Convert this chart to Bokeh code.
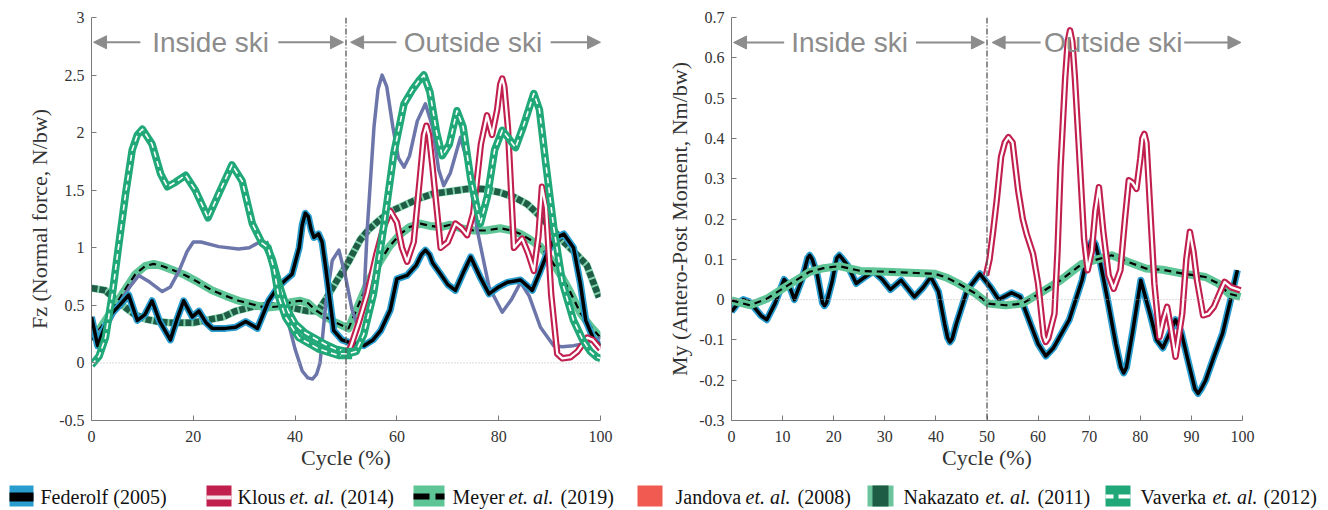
from bokeh.plotting import figure
from bokeh.models import (Range1d, FixedTicker, CustomJSTickFormatter, Span, Label,
                          Arrow, NormalHead)
from bokeh.layouts import column, row
from bokeh.core.properties import value
from bokeh.embed import file_html
from bokeh.resources import INLINE

# ---------------- data: left panel (Fz, N/bw) ----------------
fed_fz_x = [0, 1.2, 2.5, 4, 5.5, 7.3, 9, 10.5, 11.9, 13.4, 15.5, 16.8, 18.1, 19.8, 21.1, 22.5, 23.7,
            26.3, 28.3, 30.3, 32.6, 34.8, 36.5, 38.1, 39.4, 40.8, 41.4, 42, 42.6, 43.2, 43.7, 44.6,
            45.3, 46, 47.6, 49.2, 51.2, 53.5, 55.3, 56.8, 58.7, 60, 62, 63.8, 64.8, 65.6, 66.4, 67,
            68.6, 70, 71.5, 73, 74.5, 76.3, 78.1, 80, 81.7, 84.3, 86.6, 88, 89.5, 91, 92.8, 94.7,
            96, 97.1, 98.7, 100]
fed_fz_y = [0.40, 0.15, 0.30, 0.43, 0.50, 0.59, 0.37, 0.42, 0.54, 0.36, 0.20, 0.38, 0.54, 0.40, 0.45,
            0.35, 0.30, 0.30, 0.31, 0.36, 0.30, 0.54, 0.65, 0.72, 0.77, 1.00, 1.20, 1.30, 1.27, 1.15,
            1.09, 1.12, 1.05, 0.83, 0.28, 0.20, 0.17, 0.15, 0.20, 0.28, 0.46, 0.73, 0.76, 0.85, 0.94,
            0.98, 0.94, 0.87, 0.77, 0.68, 0.63, 0.78, 0.92, 0.75, 0.60, 0.66, 0.70, 0.72, 0.63, 0.78,
            0.95, 1.08, 1.12, 1.00, 0.70, 0.37, 0.20, 0.15]

jan_fz_x = [1.5, 3.5, 5.4, 7.5, 9.3, 11.5, 13.9, 15.5, 17.2, 18.8, 20, 21.5, 25, 28.9, 31, 32.6, 34,
            35.5, 37, 38.5, 40, 41.4, 42.5, 43.4, 44.2, 44.9, 46, 47.3, 48.6, 49.9, 51.2, 52, 52.8,
            53.5, 54.2, 55.5, 56.3, 57.1, 58, 59.2, 60.3, 61.4, 62.5, 64, 65.6, 67, 68.2, 69.2, 70.5,
            72.5, 73.8, 75.8, 78.1, 80.7, 82.5, 84.3, 86, 88.2, 90.8, 92.5, 94.7, 97, 100]
jan_fz_y = [0.27, 0.35, 0.51, 0.66, 0.76, 0.70, 0.62, 0.66, 0.80, 0.97, 1.05, 1.05, 1.01, 0.99, 1.00,
            1.04, 1.05, 0.90, 0.62, 0.38, 0.12, -0.07, -0.13, -0.14, -0.10, 0.00, 0.50, 0.89, 0.98,
            0.75, 0.46, 0.36, 0.36, 0.55, 1.18, 2.05, 2.38, 2.50, 2.40, 2.05, 1.78, 1.70, 1.80, 2.10,
            2.25, 2.05, 1.68, 1.54, 1.65, 1.96, 1.75, 1.15, 0.66, 0.44, 0.55, 0.70, 0.58, 0.31, 0.15,
            0.14, 0.15, 0.17, 0.22]

vav_fz_in_x = [0, 1.5, 2.75, 4.1, 5.4, 6.7, 8, 9, 10, 11.9, 13.6, 14.9, 16.5, 18.5, 20.4, 22.9, 25,
               27.6, 29.6, 31.6, 33.5, 34.7, 35.8, 36.8, 38.1, 40.7, 44.7, 48.6, 51.2]
vav_fz_in_y = [-0.02, 0.06, 0.22, 0.60, 1.04, 1.47, 1.85, 1.98, 2.03, 1.90, 1.64, 1.53, 1.57, 1.63,
               1.50, 1.26, 1.47, 1.72, 1.58, 1.21, 1.04, 1.00, 0.83, 0.57, 0.40, 0.22, 0.12, 0.065,
               0.065]
vav_fz_in2_x = [34, 35.5, 37, 38.5, 40, 42, 44, 46, 48, 50, 52]
vav_fz_in2_y = [1.05, 0.90, 0.66, 0.46, 0.34, 0.26, 0.21, 0.16, 0.12, 0.10, 0.10]
vav_fz_out_x = [49, 50.5, 52, 53.5, 55.4, 57.4, 59.4, 61.4, 63, 64.3, 65.3, 66.5, 67.8, 68.9, 70.3,
                71.8, 73, 74.5, 76.4, 77.8, 79.2, 80.7, 82, 83.3, 84.8, 86.9, 88, 89.2, 90.8, 92.5,
                94.7, 96.5, 98, 99.3, 100]
vav_fz_out_y = [0.08, 0.08, 0.10, 0.25, 0.60, 1.18, 1.82, 2.25, 2.37, 2.45, 2.50, 2.35, 2.00, 1.80,
                1.90, 2.19, 2.05, 1.60, 1.21, 1.45, 1.85, 2.02, 1.95, 1.87, 2.05, 2.34, 2.20, 1.75,
                1.18, 0.70, 0.37, 0.20, 0.10, 0.05, 0.04]

mey_fz_x = [0, 2, 4.1, 6.5, 8.6, 10.5, 12.2, 14, 15.8, 18.5, 21, 23.7, 26.5, 28.9, 31.5, 34.2, 36.5,
            39.4, 41, 42.5, 44, 46, 48, 50.5, 52.8, 54.5, 56.8, 58.5, 60.7, 62.5, 64.6, 66.5, 68.6,
            70.5, 72.5, 75.1, 77.5, 80.3, 82.5, 84.3, 86.2, 88.2, 90.2, 92.1, 94, 96.1, 98, 100]
mey_fz_y = [0.20, 0.32, 0.46, 0.63, 0.77, 0.84, 0.86, 0.84, 0.81, 0.76, 0.70, 0.63, 0.58, 0.54, 0.51,
            0.48, 0.49, 0.53, 0.54, 0.52, 0.46, 0.40, 0.35, 0.30, 0.54, 0.72, 0.89, 1.01, 1.12, 1.18,
            1.21, 1.19, 1.18, 1.20, 1.17, 1.15, 1.15, 1.17, 1.15, 1.12, 1.07, 1.01, 0.90, 0.77, 0.62,
            0.43, 0.32, 0.22]

nak_fz_x = [0, 2.7, 4.5, 6.7, 8.5, 10.6, 13, 15.2, 17.2, 20.1, 22.4, 25.9, 28.3, 31.7, 35, 39.2, 42.5,
            44.5, 46, 48, 49, 50.5, 52.8, 54.5, 56.8, 59, 62, 64.5, 67.2, 70.5, 73.7, 77, 80.3, 83,
            85.6, 88, 90.8, 92.8, 94.7, 97.3, 99.7]
nak_fz_y = [0.65, 0.63, 0.56, 0.48, 0.42, 0.38, 0.36, 0.35, 0.35, 0.35, 0.37, 0.40, 0.45, 0.49, 0.50,
            0.48, 0.45, 0.45, 0.55, 0.70, 0.77, 0.88, 1.07, 1.16, 1.25, 1.32, 1.38, 1.43, 1.47, 1.49,
            1.51, 1.51, 1.48, 1.44, 1.38, 1.28, 1.15, 1.05, 0.97, 0.85, 0.57]

klo_fz_x = [50, 51, 52.5, 54.2, 56, 57.4, 58.7, 60, 61, 62, 63.3, 64.5, 65.3, 65.8, 66.3, 67, 68.6,
            70, 71.5, 72.7, 73.8, 75, 76.5, 77.7, 78.7, 79.7, 80.3, 80.7, 81.1, 81.8, 83, 84.6, 85.8,
            86.9, 87.8, 88.5, 89.3, 90.3, 91.5, 92.5, 94.1, 95.5, 97.4, 98.5, 100]
klo_fz_y = [0.05, 0.15, 0.35, 0.60, 0.95, 1.18, 1.32, 1.22, 1.00, 0.88, 1.05, 1.60, 1.98, 2.06, 1.98,
            1.70, 1.00, 1.05, 1.21, 1.17, 1.11, 1.30, 1.90, 2.15, 1.98, 2.20, 2.42, 2.47, 2.40, 2.05,
            1.00, 1.08, 0.95, 0.80, 1.10, 1.53, 1.35, 0.60, 0.08, 0.04, 0.05, 0.10, 0.22, 0.20, 0.12]

# ---------------- data: right panel (My, Nm/bw) ----------------
fed_my_x = [0, 1.2, 2.3, 3.4, 4.5, 5.8, 6.9, 8.5, 10.3, 11.3, 12.3, 13.8, 14.9, 15.3, 15.8, 16.8,
            17.8, 18.2, 18.6, 19.7, 20.6, 21.1, 21.6, 22.7, 24.4, 26, 27.8, 29.5, 31.1, 33.2, 35.8,
            37.5, 39, 40.5, 41.7, 42.3, 42.75, 43.2, 44, 46.1, 48.6, 50.7, 52.3, 54.8, 56.5, 58.5,
            60, 61.5, 63, 66.1, 68.6, 70.2, 70.7, 71.2, 72.2, 73.6, 75.2, 76.2, 76.75, 77.3, 78.5,
            80.1, 81.9, 83.2, 84.4, 85.5, 86.9, 88, 89.5, 90.7, 91.3, 91.9, 92.8, 94.4, 96.1, 97.5,
            99]
fed_my_y = [-0.03, -0.01, 0.0, -0.005, -0.02, -0.04, -0.05, -0.01, 0.05, 0.035, 0.0, 0.05, 0.103,
            0.11, 0.10, 0.06, -0.008, -0.015, -0.008, 0.045, 0.103, 0.11, 0.103, 0.085, 0.04, 0.055,
            0.07, 0.05, 0.025, 0.048, 0.007, 0.03, 0.056, 0.02, -0.06, -0.095, -0.105, -0.097,
            -0.06, 0.023, 0.064, 0.031, 0.0, 0.017, 0.007, -0.06, -0.11, -0.14, -0.12, -0.05, 0.048,
            0.138, 0.147, 0.138, 0.09, 0.0, -0.11, -0.168, -0.182, -0.168, -0.08, 0.048, -0.035,
            -0.10, -0.12, -0.09, -0.05, -0.08, -0.16, -0.222, -0.233, -0.222, -0.2, -0.142, -0.084,
            -0.01, 0.073]

mey_my_x = [0, 3.6, 6.9, 11.1, 15.3, 18, 21.1, 25.3, 30.3, 36.1, 39.8, 42, 44.4, 47.75, 50.25, 53.6,
            56.9, 60.25, 64.4, 68.6, 71.1, 74.4, 77.75, 81.1, 84.4, 88.6, 92.75, 95.25, 97.3, 99.6]
mey_my_y = [-0.002, -0.014, 0.002, 0.036, 0.069, 0.078, 0.083, 0.071, 0.069, 0.066, 0.064, 0.055,
            0.040, 0.015, -0.010, -0.014, -0.010, 0.015, 0.048, 0.089, 0.098, 0.110, 0.093, 0.077,
            0.074, 0.064, 0.056, 0.040, 0.015, 0.007]

klo_my_x = [49.8, 50.5, 51.2, 51.9, 52.75, 53.5, 54.2, 55, 56.1, 57, 57.75, 59, 60, 61.1, 61.5, 62.0,
            63.2, 63.8, 64.4, 65.3, 65.8, 66.25, 66.7, 67.2, 68.2, 69, 69.7, 70.5, 71.2, 71.9, 72.75,
            73.8, 74.8, 76.1, 77, 77.75, 78.5, 79.25, 80, 80.4, 80.8, 81.2, 81.6, 82.75, 83.75, 84.5,
            85.25, 86, 86.9, 88.2, 89, 89.7, 90.4, 91.1, 92.3, 93.3, 94.4, 95.5, 96.5, 97.75, 99.6]
klo_my_y = [0.06, 0.10, 0.17, 0.246, 0.354, 0.39, 0.403, 0.39, 0.271, 0.20, 0.163, 0.114, 0.04,
            -0.09, -0.105, -0.095, -0.035, 0.12, 0.33, 0.55, 0.64, 0.668, 0.64, 0.55, 0.33, 0.15,
            0.073, 0.12, 0.22, 0.279, 0.17, 0.06, 0.027, 0.073, 0.2, 0.296, 0.29, 0.275, 0.35, 0.40,
            0.411, 0.39, 0.30, 0.04, -0.093, -0.05, -0.018, -0.07, -0.142, -0.035, 0.10, 0.168, 0.12,
            0.048, -0.039, -0.035, -0.018, 0.015, 0.044, 0.031, 0.023]

# ---------------- ticks / labels ----------------
fz_yticks = [-0.5, 0, 0.5, 1, 1.5, 2, 2.5, 3]
fz_xticks = [0, 20, 40, 60, 80, 100]
my_yticks = [-0.3, -0.2, -0.1, 0, 0.1, 0.2, 0.3, 0.4, 0.5, 0.6, 0.7]
my_xticks = [0, 10, 20, 30, 40, 50, 60, 70, 80, 90, 100]
legend_names = ["Federolf", "Klous", "Meyer", "Jandova", "Nakazato", "Vaverka"]
legend_years = ["(2005)", "(2014)", "(2019)", "(2008)", "(2011)", "(2012)"]

# ---------------- colours ----------------
C_BLUE = "#2a9dcf"
C_CRIM = "#c11f4d"
C_LGREEN = "#5ec597"
C_DGREEN = "#1e5c46"
C_GREEN = "#20a878"
C_SLATE = "#6c76aa"
C_SALMON = "#f05a50"
C_GRAY = "#8c8c8c"
SERIF = "Liberation Serif"

FIG_H = 474
LEG_H = 510 - FIG_H


def base_fig(bl, br, yr, yticks, xticks, ylabel):
    p = figure(width=664, height=FIG_H, x_range=Range1d(0, 100), y_range=Range1d(*yr),
               output_backend="svg", toolbar_location=None,
               min_border_left=bl, min_border_right=br, min_border_top=17,
               min_border_bottom=FIG_H - 17 - 403)
    p.outline_line_color = None
    p.grid.visible = False
    p.background_fill_color = "white"
    p.border_fill_color = "white"
    fmt = CustomJSTickFormatter(code="return Number(tick.toFixed(2)).toString();")
    p.xaxis.ticker = FixedTicker(ticks=xticks)
    p.yaxis.ticker = FixedTicker(ticks=yticks)
    for ax in (p.xaxis[0], p.yaxis[0]):
        ax.formatter = fmt
        ax.major_tick_in = 5
        ax.major_tick_out = 0
        ax.minor_tick_in = 0
        ax.minor_tick_out = 0
        ax.axis_line_color = "#7a7a7a"
        ax.major_tick_line_color = "#7a7a7a"
        ax.major_label_text_font = SERIF
        ax.major_label_text_font_size = "16px"
        ax.major_label_text_color = "#333333"
        ax.axis_label_text_font = SERIF
        ax.axis_label_text_font_size = "22px"
        ax.axis_label_text_font_style = "normal"
        ax.axis_label_text_color = "#333333"
    p.xaxis.major_label_standoff = 10
    p.xaxis.axis_label_standoff = 0
    p.yaxis.major_label_standoff = 7
    p.yaxis.axis_label_standoff = 4
    p.xaxis.axis_label = "Cycle (%)"
    p.yaxis.axis_label = ylabel
    p.add_layout(Span(location=0, dimension="width", line_color="#b5b5b5",
                      line_dash="1 2", line_width=1))
    p.add_layout(Span(location=50, dimension="height", line_color="#555555",
                      line_dash="6 2 1 2", line_width=1.3))
    return p


def annotate(p, yarrow, inside_x, outside_x, arrows):
    for txt, cx in (("Inside ski", inside_x), ("Outside ski", outside_x)):
        p.add_layout(Label(x=cx, y=yarrow, text=txt, text_align="center",
                           text_baseline="middle", text_font="Liberation Sans",
                           text_font_size="28px", text_color=C_GRAY))
    for xs, xe in arrows:
        p.add_layout(Arrow(end=NormalHead(size=13, fill_color=C_GRAY, line_color=C_GRAY),
                           x_start=xs, y_start=yarrow, x_end=xe, y_end=yarrow,
                           line_color=C_GRAY, line_width=2))


def federolf(p, x, y):
    p.line(x, y, line_color=C_BLUE, line_width=7, line_join="round")
    p.line(x, y, line_color="black", line_width=3.5, line_join="round")


def klous(p, x, y):
    p.line(x, y, line_color=C_CRIM, line_width=6.5, line_join="round")
    p.line(x, y, line_color="white", line_width=2.3, line_join="round")


def meyer(p, x, y):
    p.line(x, y, line_color=C_LGREEN, line_width=8, line_join="round")
    p.line(x, y, line_color="black", line_width=2.2, line_dash="7 5", line_join="round")


def nakazato(p, x, y):
    p.line(x, y, line_color="#7fcfa9", line_width=7.5, line_join="round")
    p.line(x, y, line_color=C_DGREEN, line_width=6.5, line_dash="6 2", line_join="round")


def vaverka(p, x, y):
    p.line(x, y, line_color=C_GREEN, line_width=7.5, line_join="round")
    p.line(x, y, line_color="white", line_width=1.6, line_dash="6 4", line_join="round")


# ---------------- left panel ----------------
p1 = base_fig(91, 64, (-0.5, 3), fz_yticks, fz_xticks, "Fz (Normal force, N/bw)")
nakazato(p1, nak_fz_x, nak_fz_y)
meyer(p1, mey_fz_x, mey_fz_y)
p1.line(jan_fz_x, jan_fz_y, line_color=C_SLATE, line_width=3.5, line_join="round")
federolf(p1, fed_fz_x, fed_fz_y)
klous(p1, klo_fz_x, klo_fz_y)
vaverka(p1, vav_fz_in2_x, vav_fz_in2_y)
vaverka(p1, vav_fz_in_x, vav_fz_in_y)
vaverka(p1, vav_fz_out_x, vav_fz_out_y)
annotate(p1, 2.785, 23.4, 74.95, [(9.6, 0.4), (36.7, 49.5), (59.9, 50.9), (90.2, 100)])

# ---------------- right panel ----------------
p2 = base_fig(67, 86, (-0.3, 0.7), my_yticks, my_xticks, "My (Antero-Post Moment, Nm/bw)")
federolf(p2, fed_my_x, fed_my_y)
meyer(p2, mey_my_x, mey_my_y)
klous(p2, klo_my_x, klo_my_y)
annotate(p2, 0.638, 23.1, 74.7, [(10.3, 0.4), (36.1, 49.5), (60.5, 51.0), (88.6, 99.7)])

# ---------------- legend strip (page pixel coordinates) ----------------
lg = figure(width=1328, height=LEG_H, x_range=Range1d(0, 1328), y_range=Range1d(510, FIG_H),
            output_backend="svg", toolbar_location=None, x_axis_location=None,
            y_axis_location=None, min_border=0)
lg.outline_line_color = None
lg.grid.visible = False

T, B = 485, 506
# Federolf
lg.quad(left=[9], right=[33], top=[T], bottom=[B], fill_color=C_BLUE, line_color=None)
lg.quad(left=[9], right=[33], top=[492], bottom=[501], fill_color="black", line_color=None)
# Klous
lg.quad(left=[206], right=[231], top=[T], bottom=[B], fill_color=C_CRIM, line_color=None)
lg.quad(left=[206], right=[231], top=[495], bottom=[499], fill_color="#f7e4ea", line_color=None)
# Meyer
lg.quad(left=[413], right=[444], top=[T], bottom=[B], fill_color=C_LGREEN, line_color=None)
lg.quad(left=[413, 435], right=[429, 444], top=[493, 493], bottom=[499, 499],
        fill_color="black", line_color=None)
# Jandova
lg.quad(left=[637], right=[662], top=[T], bottom=[B], fill_color=C_SALMON, line_color=None)
# Nakazato
lg.quad(left=[867], right=[893], top=[T], bottom=[B], fill_color="#6cc49c", line_color=None)
lg.quad(left=[872], right=[888], top=[T], bottom=[B], fill_color=C_DGREEN, line_color=None)
# Vaverka
lg.quad(left=[1105], right=[1130], top=[T], bottom=[B], fill_color=C_GREEN, line_color=None)
lg.quad(left=[1105, 1118], right=[1113, 1130], top=[494, 494], bottom=[498, 498],
        fill_color="white", line_color=None)

name_x = [40, 237, 452, 675, 903, 1140]
etal_x = [None, 289, 508, 745, 985, 1212]
year_x = [None, 340, 560, 797, 1037, 1263]
TY = 496
for i, nm in enumerate(legend_names):
    if i == 0:
        lg.text(x=[name_x[i]], y=[TY], text=[nm + " " + legend_years[i]], text_font=value(SERIF),
                text_font_size="20px", text_baseline="middle", text_align="left",
                text_color="#111111")
        continue
    lg.text(x=[name_x[i]], y=[TY], text=[nm], text_font=value(SERIF), text_font_size="20px",
            text_baseline="middle", text_align="left", text_color="#111111")
    lg.text(x=[etal_x[i]], y=[TY], text=["et. al."], text_font=value(SERIF),
            text_font_size="20px", text_font_style="italic", text_baseline="middle",
            text_align="left", text_color="#111111")
    lg.text(x=[year_x[i]], y=[TY], text=[legend_years[i]], text_font=value(SERIF),
            text_font_size="20px", text_baseline="middle", text_align="left",
            text_color="#111111")

layout = column(row(p1, p2), lg)
open("out.html", "w").write(file_html(layout, INLINE))
